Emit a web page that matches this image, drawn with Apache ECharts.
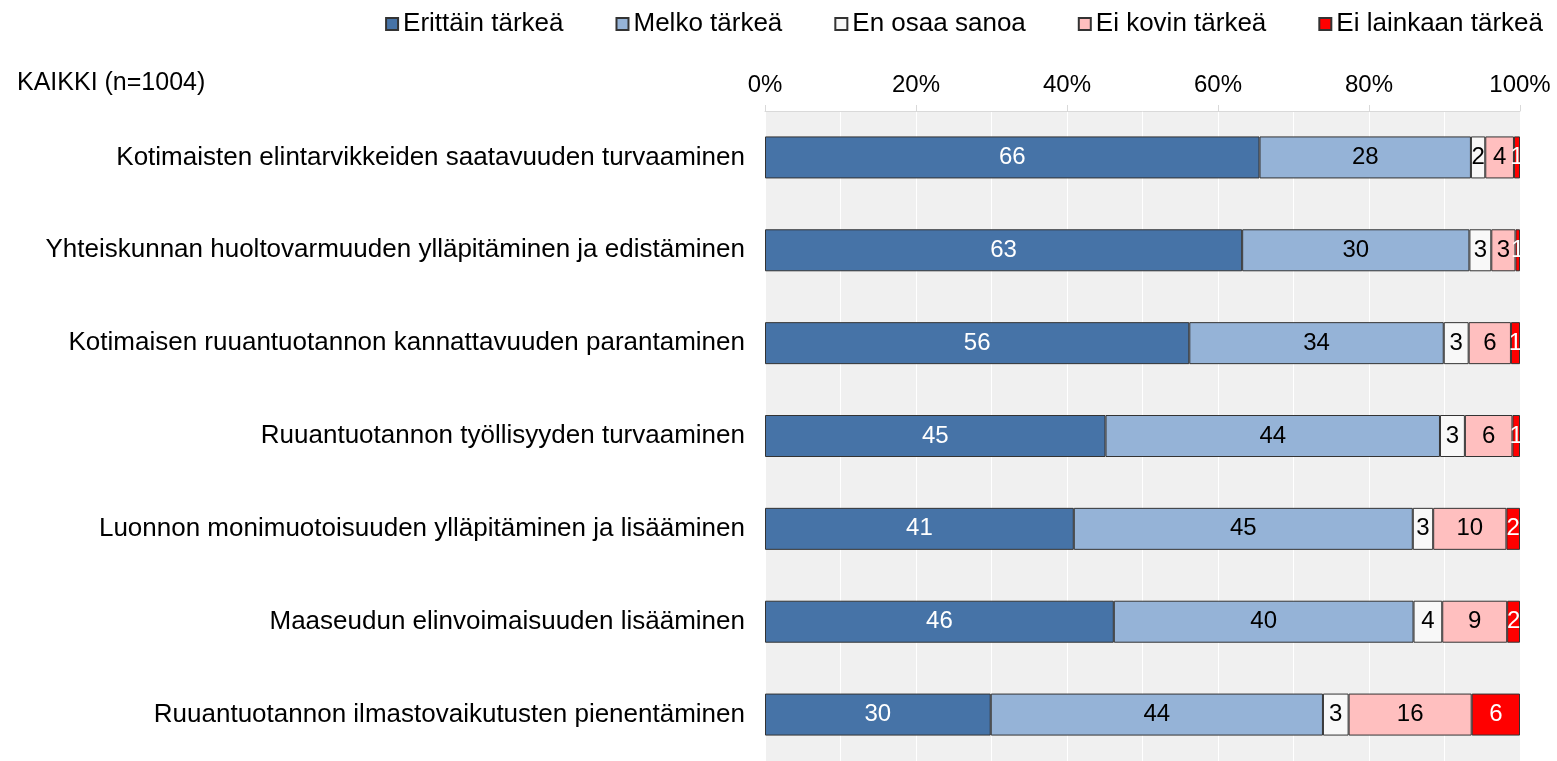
<!DOCTYPE html>
<html>
<head>
<meta charset="utf-8">
<script src="https://cdn.jsdelivr.net/npm/echarts@6/dist/echarts.min.js"></script>
<style>
html,body{margin:0;padding:0;background:#fff;}
#chart{width:1557px;height:761px;}
</style>
</head>
<body>
<div id="chart"></div>
<script>
var categories = [
	"Kotimaisten elintarvikkeiden saatavuuden turvaaminen",
	"Yhteiskunnan huoltovarmuuden ylläpitäminen ja edistäminen",
	"Kotimaisen ruuantuotannon kannattavuuden parantaminen",
	"Ruuantuotannon työllisyyden turvaaminen",
	"Luonnon monimuotoisuuden ylläpitäminen ja lisääminen",
	"Maaseudun elinvoimaisuuden lisääminen",
	"Ruuantuotannon ilmastovaikutusten pienentäminen"
];
var seriesNames = ["Erittäin tärkeä", "Melko tärkeä", "En osaa sanoa", "Ei kovin tärkeä", "Ei lainkaan tärkeä"];

// prosentit (kuvasta arvioitu, tarrat pyöristetään)
var erittain   = [65.5, 63.2, 56.2, 45.1, 40.9, 46.2, 29.9];
var melko      = [28.0, 30.1, 33.7, 44.3, 44.9, 39.7, 44.0];
var eos        = [1.9, 2.9, 3.3, 3.3, 2.7, 3.8, 3.4];
var eiKovin    = [3.8, 3.2, 5.6, 6.3, 9.7, 8.6, 16.3];
var eiLainkaan = [0.8, 0.6, 1.2, 1.0, 1.8, 1.7, 6.4];

var xTicks = [0, 20, 40, 60, 80, 100];

var colors = ["#4673a7", "#95b3d7", "#f8f8f8", "#ffbfbf", "#ff0000"];
var labelColors = ["#fff", "#000", "#000", "#000", "#fff"];
var values = [erittain, melko, eos, eiKovin, eiLainkaan];
var font = "'Liberation Sans', Arial, sans-serif";

var series = [];
for (var i = 0; i < seriesNames.length; i++) {
	series.push({
		name: seriesNames[i],
		type: "bar",
		stack: "total",
		barWidth: 42,
		data: values[i],
		itemStyle: { color: colors[i], borderColor: "#333", borderWidth: 1 },
		label: {
			show: true,
			position: "inside",
			color: labelColors[i],
			fontFamily: font,
			fontSize: 24,
			formatter: function(p){ return Math.round(p.value); }
		}
	});
}

var chart = echarts.init(document.getElementById("chart"));
chart.setOption({
	animation: false,
	title: {
		text: "KAIKKI (n=1004)",
		left: 17,
		top: 71,
		padding: 0,
		textStyle: { fontFamily: font, fontSize: 25, fontWeight: "normal", color: "#000" }
	},
	legend: {
		data: seriesNames,
		right: 9,
		top: 6,
		icon: "rect",
		itemWidth: 12,
		itemHeight: 12,
		itemGap: 52,
		textStyle: { fontFamily: font, fontSize: 26, color: "#000" }
	},
	grid: {
		left: 765,
		right: 37,
		top: 111,
		height: 654,
		show: true,
		backgroundColor: "#f0f0f0",
		borderWidth: 0
	},
	xAxis: {
		type: "value",
		position: "top",
		min: xTicks[0],
		max: xTicks[xTicks.length - 1],
		interval: 20,
		axisLine: { show: true, lineStyle: { color: "#d9d9d9" } },
		axisTick: { show: true, length: 6, lineStyle: { color: "#d9d9d9" } },
		axisLabel: {
			margin: 14,
			fontFamily: font,
			fontSize: 24,
			color: "#000",
			formatter: function(v){ return v + "%"; }
		},
		splitLine: { show: true, lineStyle: { color: "#ffffff", width: 1 } },
		minorTick: { show: false, splitNumber: 2 },
		minorSplitLine: { show: true, lineStyle: { color: "#ffffff", width: 1 } }
	},
	yAxis: {
		type: "category",
		inverse: true,
		data: categories,
		axisLine: { show: false },
		axisTick: { show: false },
		axisLabel: { margin: 20, fontFamily: font, fontSize: 26, color: "#000" }
	},
	series: series
});
</script>
</body>
</html>
